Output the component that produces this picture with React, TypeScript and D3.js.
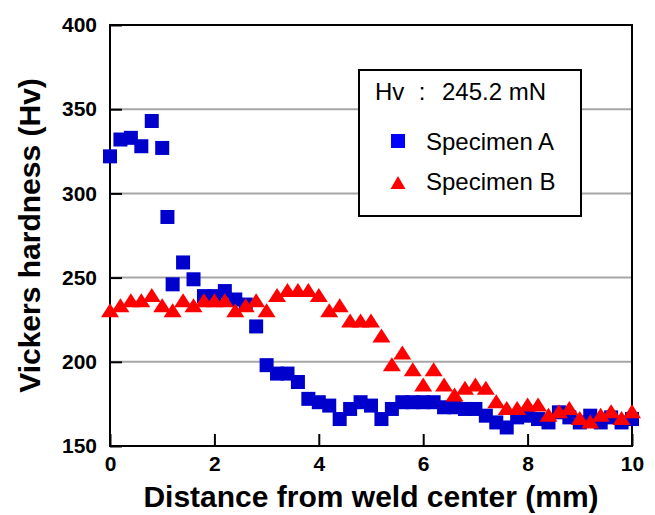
import React, { useEffect, useRef } from 'react';
import * as d3 from 'd3';

// Specimen A (squares), distance in mm and hardness in Hv
const distA = [0, 0.2, 0.4, 0.6, 0.8, 1.0, 1.1, 1.2, 1.4, 1.6, 1.8, 2.0, 2.2, 2.4, 2.6, 2.8, 3.0, 3.2, 3.4, 3.6, 3.8,
  4.0, 4.2, 4.4, 4.6, 4.8, 5.0, 5.2, 5.4, 5.6, 5.8, 6.0, 6.2, 6.4, 6.6, 6.8, 7.0, 7.2, 7.4, 7.6, 7.8,
  8.0, 8.2, 8.4, 8.6, 8.8, 9.0, 9.2, 9.4, 9.6, 9.8, 10.0];
const hvA = [322, 332, 333, 328, 343, 327, 286, 246, 259, 249, 239, 239, 242, 237, 234, 221, 198, 193, 193, 188, 178,
  176, 174, 166, 172, 176, 174, 166, 172, 176, 176, 176, 176, 173, 173, 172, 172, 168, 164, 161, 167,
  168, 166, 164, 170, 167, 164, 168, 164, 167, 164, 166];

// Specimen B (triangles)
const distB = [0, 0.2, 0.4, 0.6, 0.8, 1.0, 1.2, 1.4, 1.6, 1.8, 2.0, 2.2, 2.4, 2.6, 2.8, 3.0, 3.2, 3.4, 3.6, 3.8,
  4.0, 4.2, 4.4, 4.6, 4.8, 5.0, 5.2, 5.4, 5.6, 5.8, 6.0, 6.2, 6.4, 6.6, 6.8, 7.0, 7.2, 7.4, 7.6, 7.8,
  8.0, 8.2, 8.4, 8.6, 8.8, 9.0, 9.2, 9.4, 9.6, 9.8, 10.0];
const hvB = [230, 233, 236, 236, 239, 233, 230, 236, 233, 236, 236, 236, 230, 233, 236, 230, 239, 242, 242, 242,
  239, 230, 233, 224, 224, 224, 215, 198, 205, 195, 186, 195, 186, 180, 184, 186, 184, 176, 172, 172,
  174, 174, 168, 170, 172, 166, 164, 168, 170, 166, 170];

const xTicks = [0, 2, 4, 6, 8, 10];
const yTicks = [150, 200, 250, 300, 350, 400];
const gridTicks = [200, 250, 300, 350];

const FONT = '"Liberation Sans", Arial, sans-serif';

function App() {
  const svgRef = useRef<SVGSVGElement>(null);

  useEffect(() => {
    const width = 655;
    const height = 515;
    const margin = { top: 25, right: 23, bottom: 69, left: 110 };

    const svg = d3.select(svgRef.current);
    svg.selectAll('*').remove();
    svg.attr('width', width).attr('height', height);

    const x = d3.scaleLinear().domain([0, 10]).range([margin.left, width - margin.right]);
    const y = d3.scaleLinear().domain([150, 400]).range([height - margin.bottom, margin.top]);

    // gray gridlines
    svg.append('g')
      .selectAll('line')
      .data(gridTicks)
      .enter()
      .append('line')
      .attr('x1', x(0))
      .attr('x2', x(10))
      .attr('y1', d => y(d))
      .attr('y2', d => y(d))
      .attr('stroke', '#a6a6a6')
      .attr('stroke-width', 2);

    const yAxis = svg.append('g')
      .attr('transform', `translate(${x(0)},0)`)
      .call(d3.axisLeft(y).tickValues(yTicks).tickSizeInner(-12).tickSizeOuter(0).tickPadding(13).tickFormat(d3.format('d')));

    const xAxis = svg.append('g')
      .attr('transform', `translate(0,${y(150)})`)
      .call(d3.axisBottom(x).tickValues(xTicks).tickSizeInner(-12).tickSizeOuter(0).tickPadding(10).tickFormat(d3.format('d')));

    [xAxis, yAxis].forEach(g => {
      g.select('.domain').remove();
      g.selectAll('line').attr('stroke', '#000').attr('stroke-width', 2);
      g.selectAll('text')
        .attr('fill', '#000')
        .style('font-family', FONT)
        .style('font-size', '21px')
        .style('font-weight', 'bold');
    });

    // frame
    svg.append('rect')
      .attr('x', x(0))
      .attr('y', y(400))
      .attr('width', x(10) - x(0))
      .attr('height', y(150) - y(400))
      .attr('fill', 'none')
      .attr('stroke', '#000')
      .attr('stroke-width', 2);

    // Specimen A squares
    const sq = 14;
    svg.append('g')
      .selectAll('rect')
      .data(distA.map((d, i) => [d, hvA[i]]))
      .enter()
      .append('rect')
      .attr('x', d => x(d[0]) - sq / 2)
      .attr('y', d => y(d[1]) - sq / 2)
      .attr('width', sq)
      .attr('height', sq)
      .attr('fill', '#0000cc');

    // Specimen B triangles
    const tri = 'M0,-8L9,6L-9,6Z';
    svg.append('g')
      .selectAll('path')
      .data(distB.map((d, i) => [d, hvB[i]]))
      .enter()
      .append('path')
      .attr('d', tri)
      .attr('transform', d => `translate(${x(d[0])},${y(d[1])})`)
      .attr('fill', '#ff0000');

    // axis titles
    svg.append('text')
      .attr('x', (x(0) + x(10)) / 2)
      .attr('y', 507)
      .attr('text-anchor', 'middle')
      .style('font-family', FONT)
      .style('font-size', '30px')
      .style('font-weight', 'bold')
      .text('Distance from weld center (mm)');

    svg.append('text')
      .attr('transform', `translate(40,${(y(150) + y(400)) / 2}) rotate(-90)`)
      .attr('text-anchor', 'middle')
      .style('font-family', FONT)
      .style('font-size', '30px')
      .style('font-weight', 'bold')
      .text('Vickers hardness (Hv)');

    // legend
    const lg = svg.append('g');
    lg.append('rect')
      .attr('x', 359)
      .attr('y', 70)
      .attr('width', 222)
      .attr('height', 146)
      .attr('fill', '#fff')
      .attr('stroke', '#000')
      .attr('stroke-width', 2);

    const legendText = (tx: number, ty: number, s: string, anchor = 'start') =>
      lg.append('text')
        .attr('x', tx)
        .attr('y', ty)
        .attr('text-anchor', anchor)
        .style('font-family', FONT)
        .style('font-size', '24px')
        .attr('fill', '#000')
        .text(s);

    legendText(375, 100, 'Hv');
    legendText(422, 100, ':', 'middle');
    legendText(442, 100, '245.2 mN');
    legendText(426, 150, 'Specimen A');
    legendText(426, 190, 'Specimen B');

    lg.append('rect')
      .attr('x', 398 - 7)
      .attr('y', 141 - 7)
      .attr('width', 14)
      .attr('height', 14)
      .attr('fill', '#0000ff');
    lg.append('path')
      .attr('d', 'M0,-7L7.5,6L-7.5,6Z')
      .attr('transform', 'translate(398,183)')
      .attr('fill', '#ff0000');
  }, []);

  return (
    <svg ref={svgRef} style={{ position: 'absolute', left: 0, top: 0, background: '#fff' }}></svg>
  );
}

export default App;
